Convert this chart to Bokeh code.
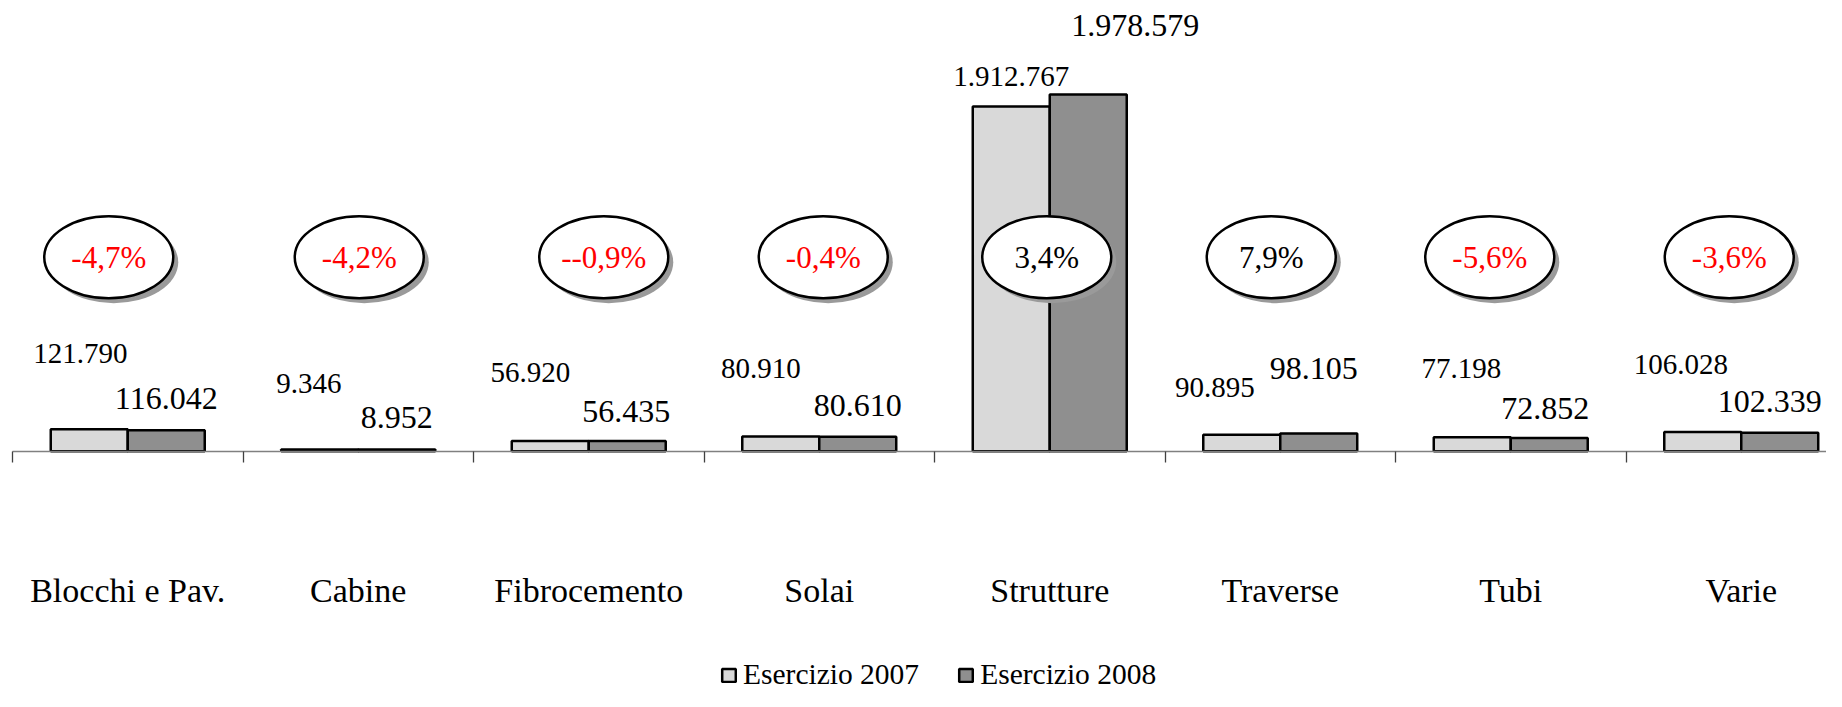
from bokeh.plotting import figure
from bokeh.models import Range1d, FixedTicker, Legend, LegendItem, ColumnDataSource
from bokeh.core.properties import value
from bokeh.embed import file_html
from bokeh.resources import INLINE

# ---------------- data ----------------
categories = ["Blocchi e Pav.", "Cabine", "Fibrocemento", "Solai",
              "Strutture", "Traverse", "Tubi", "Varie"]
esercizio_2007 = [121790, 9346, 56920, 80910, 1912767, 90895, 77198, 106028]
esercizio_2008 = [116042, 8952, 56435, 80610, 1978579, 98105, 72852, 102339]
labels_2007 = ["121.790", "9.346", "56.920", "80.910", "1.912.767", "90.895", "77.198", "106.028"]
labels_2008 = ["116.042", "8.952", "56.435", "80.610", "1.978.579", "98.105", "72.852", "102.339"]
pct_labels = ["-4,7%", "-4,2%", "--0,9%", "-0,4%", "3,4%", "7,9%", "-5,6%", "-3,6%"]
series_names = ["Esercizio 2007", "Esercizio 2008"]

# ---------------- layout (pixels) ----------------
W, H = 1826, 691
PX_PER_CAT = 230.5
AXIS_LEFT_PX = 12
BASE_PX = 450.7            # axis line from top of canvas
UNITS_PER_PX = 5548.0
BAR_W = 0.334
ELL_Y_PX = 194             # ellipse centre above axis line
ELL_W, ELL_H = 129, 82
SHADOW_PX = 5
LBL07_DX = [-9, -11, -20, -20, 0, -27, -11, -22]
LBL07_DY = [76, 66, 68, 68, 30, 47, 69, 68]
LBL08_DX = [0, 0, -1, 0, 47, -5, -4, -10]
LBL08_DY = [32, 32, 30, 31, 69, 65, 30, 31]
ELL_DX = [-19, 1, 15, 4, -3, -9, -21, -12]
LEGEND_X = 720

FONT = "Liberation Serif"

idx = list(range(len(categories)))
x07 = [i - BAR_W / 2 for i in idx]
x08 = [i + BAR_W / 2 for i in idx]

x_start = -0.5 - AXIS_LEFT_PX / PX_PER_CAT
x_end = x_start + W / PX_PER_CAT
y_start = -(H - BASE_PX) * UNITS_PER_PX
y_end = BASE_PX * UNITS_PER_PX

p = figure(width=W, height=H, output_backend="svg", toolbar_location=None,
           x_range=Range1d(x_start, x_end), y_range=Range1d(y_start, y_end),
           title=None, min_border=0, min_border_left=0, min_border_right=0,
           min_border_top=0, min_border_bottom=0)
p.outline_line_color = None
p.xgrid.visible = False
p.ygrid.visible = False
p.yaxis.visible = False
p.background_fill_color = "white"
p.border_fill_color = "white"

src = ColumnDataSource(dict(
    idx=idx, x07=x07, x08=x08, v07=esercizio_2007, v08=esercizio_2008,
    l07=labels_2007, l08=labels_2008,
    dx07=LBL07_DX, dy07=[-d for d in LBL07_DY],
    dx08=LBL08_DX, dy08=[-d for d in LBL08_DY],
    ex=[i + d / PX_PER_CAT for i, d in zip(idx, ELL_DX)],
    sx=[i + (d + SHADOW_PX) / PX_PER_CAT for i, d in zip(idx, ELL_DX)],
    ey=[ELL_Y_PX * UNITS_PER_PX] * len(idx),
    sy=[(ELL_Y_PX - SHADOW_PX) * UNITS_PER_PX] * len(idx),
    pct=pct_labels,
    pcol=["red" if s.startswith("-") else "black" for s in pct_labels],
))

r07 = p.vbar(x="x07", top="v07", bottom=0, width=BAR_W, source=src,
             fill_color="#d9d9d9", line_color="black", line_width=2.5)
r08 = p.vbar(x="x08", top="v08", bottom=0, width=BAR_W, source=src,
             fill_color="#8f8f8f", line_color="black", line_width=2.5)

# x axis at the baseline
ax = p.xaxis[0]
ax.fixed_location = 0
ax.ticker = FixedTicker(ticks=idx, minor_ticks=[i - 0.5 for i in idx] + [idx[-1] + 0.5])
ax.bounds = (-0.5, idx[-1] + 0.5)
ax.major_label_overrides = {i: c for i, c in zip(idx, categories)}
ax.major_tick_out = 0
ax.major_tick_in = 0
ax.minor_tick_out = 11
ax.minor_tick_in = 0
ax.minor_tick_line_color = "#404040"
ax.minor_tick_line_width = 1.3
ax.axis_line_color = "#808080"
ax.axis_line_width = 1.3
ax.major_label_standoff = 110
ax.major_label_text_font = FONT
ax.major_label_text_font_size = "34px"
ax.major_label_text_color = "black"

# value labels
p.text(x="x07", y="v07", text="l07", x_offset="dx07", y_offset="dy07", source=src,
       text_font=value(FONT), text_font_size="29px", text_align="center",
       text_baseline="middle", text_color="black")
p.text(x="x08", y="v08", text="l08", x_offset="dx08", y_offset="dy08", source=src,
       text_font=value(FONT), text_font_size="32px", text_align="center",
       text_baseline="middle", text_color="black")

# ellipses with shadow
p.ellipse(x="sx", y="sy", width=ELL_W, height=ELL_H, width_units="screen",
          height_units="screen", source=src, fill_color="#9a9a9a", line_color=None)
p.ellipse(x="ex", y="ey", width=ELL_W, height=ELL_H, width_units="screen",
          height_units="screen", source=src, fill_color="white", line_color="black",
          line_width=2.5)
p.text(x="ex", y="ey", text="pct", source=src, text_color="pcol",
       text_font=value(FONT), text_font_size="31px", text_align="center",
       text_baseline="middle")

legend = Legend(items=[LegendItem(label=series_names[0], renderers=[r07]),
                       LegendItem(label=series_names[1], renderers=[r08])],
                orientation="horizontal", location=(LEGEND_X, 0),
                glyph_width=17, glyph_height=16, label_standoff=6, spacing=38,
                padding=0, margin=0, border_line_color=None,
                background_fill_alpha=0, label_text_font=FONT,
                label_text_font_size="29.5px", label_text_color="black")
p.add_layout(legend)

open("out.html", "w").write(file_html(p, INLINE))
